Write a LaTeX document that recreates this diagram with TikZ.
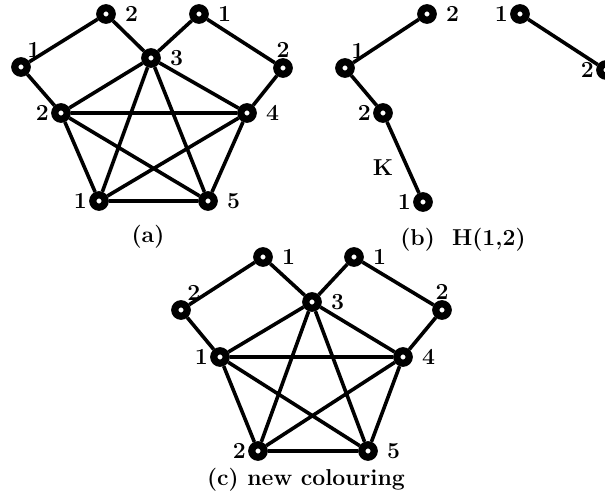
\documentclass[tikz,border=0pt]{standalone}
\usepackage{tikz}
\usetikzlibrary{positioning}

\begin{document}
\begin{tikzpicture}[x=0.5pt, y=-0.5pt, font=\fontsize{11.5}{13}\selectfont\bfseries,
  vtx/.style={circle, draw, fill=white, line width=3.6pt, minimum size=6.2pt, inner sep=0pt},
  edge/.style={line width=1.8pt},
  lbl/.style={inner sep=1pt},
  R/.style={label={[lbl, label distance=3.5pt]right:#1}},
  L/.style={label={[lbl, label distance=0pt]left:#1}},
  U/.style={label={[lbl, label distance=-1pt]90:#1}},
  UR/.style={label={[lbl, label distance=-1pt]60:#1}}]
\useasboundingbox (0,0) rectangle (605,494);
% (a)
\node[vtx, R=2] (a2t) at (106,14) {};
\node[vtx, R=1] (a1t) at (199,14) {};
\node[vtx, UR=1] (aL) at (21,67) {};
\node[vtx, R=3] (a3) at (151,58) {};
\node[vtx, U=2] (aR) at (283,68) {};
\node[vtx, L=2] (a2) at (61,113) {};
\node[vtx, R=4] (a4) at (247,113) {};
\node[vtx, L=1] (a1) at (99,201) {};
\node[vtx, R=5] (a5) at (208,201) {};
\node (capa) at (148,237) {(a)};
\draw[edge] (a2) -- (aL) -- (a2t) -- (a3) -- (a1t) -- (aR) -- (a4);
\draw[edge] (a2) -- (a3) -- (a4) -- (a5) -- (a1) -- (a2) -- (a4) -- (a1) -- (a3) -- (a5) -- (a2);
% (b) H(1,2)
\node[vtx, R=2] (b2t) at (427,14) {};
\node[vtx, L=1] (b1t) at (520,14) {};
\node[vtx, UR=1] (bL) at (345,68) {};
\node[vtx, L=2] (b2) at (383,113) {};
\node[vtx, L=1] (b1) at (423,202) {};
\node[vtx, L=2] (bR) at (606,70) {};
\node (k) at (383,168) {K};
\node (capb) at (463,240) {(b)\ \ H(1,2)};
\draw[edge] (b2t) -- (bL) -- (b2) -- (b1);
\draw[edge] (b1t) -- (bR);
% (c) new colouring
\node[vtx, R=1] (c1t) at (263,257) {};
\node[vtx, R=1] (c1r) at (354,257) {};
\node[vtx, UR=2] (cL) at (181,310) {};
\node[vtx, R=3] (c3) at (312,302) {};
\node[vtx, U=2] (cR) at (442,310) {};
\node[vtx, L=1] (c1) at (220,357) {};
\node[vtx, R=4] (c4) at (403,357) {};
\node[vtx, L=2] (c2) at (258,451) {};
\node[vtx, R=5] (c5) at (368,451) {};
\node (capc) at (306,480) {(c) new colouring};
\draw[edge] (c1) -- (cL) -- (c1t) -- (c3) -- (c1r) -- (cR) -- (c4);
\draw[edge] (c1) -- (c3) -- (c4) -- (c5) -- (c2) -- (c1) -- (c4) -- (c2) -- (c3) -- (c5) -- (c1);
\end{tikzpicture}
\end{document}
